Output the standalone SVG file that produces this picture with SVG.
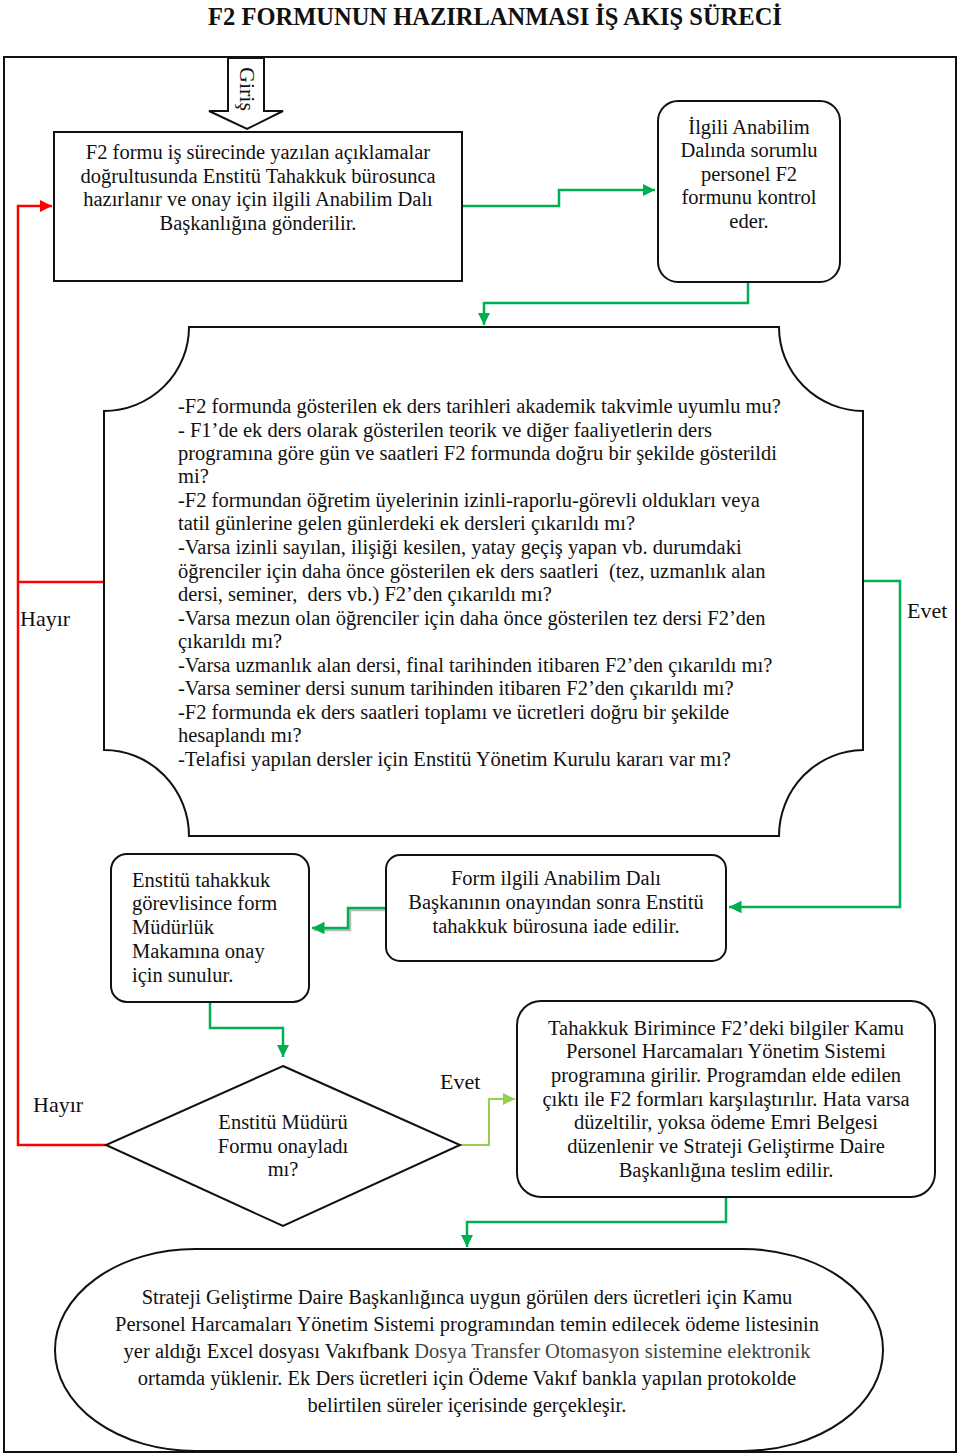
<svg xmlns="http://www.w3.org/2000/svg" width="960" height="1456" viewBox="0 0 960 1456">
<defs>
<style>
text{font-family:"Liberation Serif","Times New Roman",serif;font-size:20.5px;fill:#111}
.c{text-anchor:middle}
.title{font-weight:bold;font-size:24.5px}
.lbl{font-size:22px}
.box{fill:#fff;stroke:#111;stroke-width:2}
.g{fill:none;stroke:#00b050;stroke-width:2.5}
.lg{fill:none;stroke:#92d050;stroke-width:2}
.r{fill:none;stroke:#ff0000;stroke-width:2.5}
.sh{fill:none;stroke:#bbbbbb;stroke-width:2.5}
</style>
<marker id="ag" viewBox="0 0 10 10" refX="10" refY="5" markerWidth="5" markerHeight="5" orient="auto" markerUnits="strokeWidth"><path d="M0 0 L10 5 L0 10 z" fill="#00b050"/></marker>
<marker id="alg" viewBox="0 0 10 10" refX="10" refY="5" markerWidth="6" markerHeight="6" orient="auto" markerUnits="strokeWidth"><path d="M0 0 L10 5 L0 10 z" fill="#92d050"/></marker>
<marker id="ar" viewBox="0 0 10 10" refX="10" refY="5" markerWidth="5" markerHeight="5" orient="auto" markerUnits="strokeWidth"><path d="M0 0 L10 5 L0 10 z" fill="#ff0000"/></marker>
</defs>
<rect width="960" height="1456" fill="#fff"/>
<text class="title c" x="495" y="25">F2 FORMUNUN HAZIRLANMASI İŞ AKIŞ SÜRECİ</text>
<rect x="4" y="57" width="952" height="1395" fill="none" stroke="#111" stroke-width="2"/>

<g id="connectors">
  <path class="g" d="M462 206 H559 V190 H655" marker-end="url(#ag)"/>
  <path class="g" d="M748 282 V303 H484 V325" marker-end="url(#ag)"/>
  <path class="r" d="M104 582 H18"/>
  <path class="r" d="M106 1145 H18 V206 H52" marker-end="url(#ar)"/>
  <path class="g" d="M863 581 H900 V907 H729" marker-end="url(#ag)"/>
  <path class="sh" d="M388 910 H350 V930 H314"/>
  <path class="g" d="M386 908 H348 V928 H312" marker-end="url(#ag)"/>
  <path class="g" d="M210 1002 V1028 H283 V1057" marker-end="url(#ag)"/>
  <path class="lg" d="M460 1145 H489 V1099 H515" marker-end="url(#alg)"/>
  <path class="g" d="M726 1198 V1222 H467 V1247" marker-end="url(#ag)"/>
  <text class="lbl" x="20" y="626">Hayır</text>
  <text class="lbl" x="907" y="618">Evet</text>
  <text class="lbl" x="33" y="1112">Hayır</text>
  <text class="lbl" x="440" y="1089">Evet</text>
</g>

<g id="giris">
  <path d="M228 58 H264 V111 H283 L247 129 L209 111 H228 Z" fill="#fff" stroke="#111" stroke-width="2"/>
  <text class="c lbl" transform="translate(247,89) rotate(90)" dy="7">Giriş</text>
</g>

<g id="n1">
  <rect class="box" x="54" y="132" width="408" height="149"/>
  <text class="c" x="258" y="159">F2 formu iş sürecinde yazılan açıklamalar</text>
  <text class="c" x="258" y="183">doğrultusunda Enstitü Tahakkuk bürosunca</text>
  <text class="c" x="258" y="206">hazırlanır ve onay için ilgili Anabilim Dalı</text>
  <text class="c" x="258" y="230">Başkanlığına gönderilir.</text>
</g>

<g id="n2">
  <rect class="box" x="658" y="101" width="182" height="181" rx="20"/>
  <text class="c" x="749" y="134">İlgili Anabilim</text>
  <text class="c" x="749" y="157">Dalında sorumlu</text>
  <text class="c" x="749" y="181">personel F2</text>
  <text class="c" x="749" y="204">formunu kontrol</text>
  <text class="c" x="749" y="228">eder.</text>
</g>

<g id="n3">
  <path class="box" d="M189 327 H779 A85 84 0 0 0 863 411 V750 A85 86 0 0 0 779 836 H189 A85 86 0 0 0 104 750 V411 A85 84 0 0 0 189 327 Z"/>
  <text x="178" y="413">-F2 formunda gösterilen ek ders tarihleri akademik takvimle uyumlu mu?</text>
  <text x="178" y="437">- F1’de ek ders olarak gösterilen teorik ve diğer faaliyetlerin ders</text>
  <text x="178" y="460">programına göre gün ve saatleri F2 formunda doğru bir şekilde gösterildi</text>
  <text x="178" y="483">mi?</text>
  <text x="178" y="507">-F2 formundan öğretim üyelerinin izinli-raporlu-görevli oldukları veya</text>
  <text x="178" y="530">tatil günlerine gelen günlerdeki ek dersleri çıkarıldı mı?</text>
  <text x="178" y="554">-Varsa izinli sayılan, ilişiği kesilen, yatay geçiş yapan vb. durumdaki</text>
  <text x="178" y="578" xml:space="preserve">öğrenciler için daha önce gösterilen ek ders saatleri  (tez, uzmanlık alan</text>
  <text x="178" y="601" xml:space="preserve">dersi, seminer,  ders vb.) F2’den çıkarıldı mı?</text>
  <text x="178" y="625">-Varsa mezun olan öğrenciler için daha önce gösterilen tez dersi F2’den</text>
  <text x="178" y="648">çıkarıldı mı?</text>
  <text x="178" y="672">-Varsa uzmanlık alan dersi, final tarihinden itibaren F2’den çıkarıldı mı?</text>
  <text x="178" y="695">-Varsa seminer dersi sunum tarihinden itibaren F2’den çıkarıldı mı?</text>
  <text x="178" y="719">-F2 formunda ek ders saatleri toplamı ve ücretleri doğru bir şekilde</text>
  <text x="178" y="742">hesaplandı mı?</text>
  <text x="178" y="766">-Telafisi yapılan dersler için Enstitü Yönetim Kurulu kararı var mı?</text>
</g>

<g id="n4">
  <rect class="box" x="386" y="855" width="340" height="106" rx="14"/>
  <text class="c" x="556" y="885">Form ilgili Anabilim Dalı</text>
  <text class="c" x="556" y="909">Başkanının onayından sonra Enstitü</text>
  <text class="c" x="556" y="933">tahakkuk bürosuna iade edilir.</text>
</g>

<g id="n5">
  <rect class="box" x="111" y="854" width="198" height="148" rx="16"/>
  <text x="132" y="887">Enstitü tahakkuk</text>
  <text x="132" y="910">görevlisince form</text>
  <text x="132" y="934">Müdürlük</text>
  <text x="132" y="958">Makamına onay</text>
  <text x="132" y="982">için sunulur.</text>
</g>

<g id="n6">
  <path class="box" d="M283 1066 L460 1145 L283 1226 L106 1145 Z"/>
  <text class="c" x="283" y="1129">Enstitü Müdürü</text>
  <text class="c" x="283" y="1153">Formu onayladı</text>
  <text class="c" x="283" y="1176">mı?</text>
</g>

<g id="n7">
  <rect class="box" x="517" y="1001" width="418" height="196" rx="24"/>
  <text class="c" x="726" y="1035">Tahakkuk Birimince F2’deki bilgiler Kamu</text>
  <text class="c" x="726" y="1058">Personel Harcamaları Yönetim Sistemi</text>
  <text class="c" x="726" y="1082">programına girilir. Programdan elde edilen</text>
  <text class="c" x="726" y="1106">çıktı ile F2 formları karşılaştırılır. Hata varsa</text>
  <text class="c" x="726" y="1129">düzeltilir, yoksa ödeme Emri Belgesi</text>
  <text class="c" x="726" y="1153">düzenlenir ve Strateji Geliştirme Daire</text>
  <text class="c" x="726" y="1177">Başkanlığına teslim edilir.</text>
</g>

<g id="n8">
  <rect class="box" x="55" y="1249" width="828" height="202" rx="140" ry="101"/>
  <text class="c" x="467" y="1304">Strateji Geliştirme Daire Başkanlığınca uygun görülen ders ücretleri için Kamu</text>
  <text class="c" x="467" y="1331">Personel Harcamaları Yönetim Sistemi programından temin edilecek ödeme listesinin</text>
  <text class="c" x="467" y="1358">yer aldığı Excel dosyası Vakıfbank <tspan fill="#444">Dosya Transfer Otomasyon sistemine elektronik</tspan></text>
  <text class="c" x="467" y="1385">ortamda yüklenir. Ek Ders ücretleri için Ödeme Vakıf bankla yapılan protokolde</text>
  <text class="c" x="467" y="1412">belirtilen süreler içerisinde gerçekleşir.</text>
</g>
</svg>
